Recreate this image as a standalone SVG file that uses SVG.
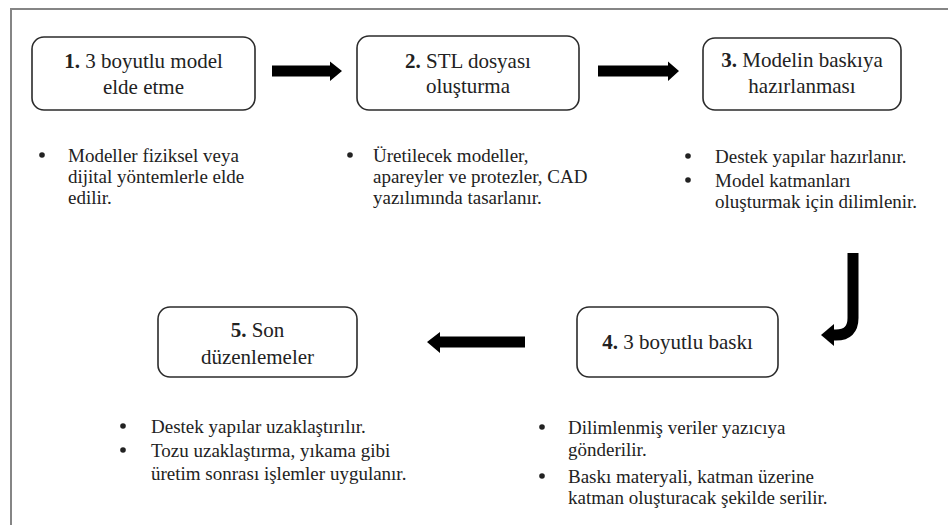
<svg xmlns="http://www.w3.org/2000/svg" width="948" height="525" viewBox="0 0 948 525">
<style>
.box{fill:#fff;stroke:#2b2b2b;stroke-width:1.6}
text{font-family:'Liberation Serif','Tinos','Times New Roman','Times','Noto Serif','DejaVu Serif','FreeSerif',serif;fill:#222}
.t{font-size:21px;text-anchor:middle}
.b{font-size:19px}
.n{font-weight:bold}
.arr{fill:#000;stroke:none}
.dot{fill:#222}
</style>
<rect width="948" height="525" fill="#fff"/>
<g id="frame">
<path d="M11,525 V9 H948" fill="none" stroke="#858585" stroke-width="2"/>
</g>
<g id="connectors">
<polygon class="arr" points="272,65.5 330,65.5 330,61.5 342,71 330,81 330,76.5 272,76.5"/>
<polygon class="arr" points="598,65.5 668,65.5 668,61.5 679,71 668,81 668,76.5 598,76.5"/>
<polygon class="arr" points="525,336.5 440,336.5 440,332 427,342 440,353 440,347.5 525,347.5"/>
<path d="M853,253 V318 Q853,335 836,335 H832" fill="none" stroke="#000" stroke-width="11"/>
<polygon class="arr" points="834,324 834,346 821,335"/>
</g>
<g id="node1">
<rect class="box" x="32" y="37" width="223" height="73" rx="12"/>
<text class="t" x="143.5" y="68"><tspan class="n">1.</tspan> 3 boyutlu model</text>
<text class="t" x="143.5" y="94">elde etme</text>
</g>
<g id="node2">
<rect class="box" x="357" y="36" width="222" height="74" rx="12"/>
<text class="t" x="468" y="68"><tspan class="n">2.</tspan> STL dosyası</text>
<text class="t" x="468" y="93">oluşturma</text>
</g>
<g id="node3">
<rect class="box" x="703" y="38" width="198" height="72" rx="12"/>
<text class="t" x="802" y="67"><tspan class="n">3.</tspan> Modelin baskıya</text>
<text class="t" x="802" y="93">hazırlanması</text>
</g>
<g id="node4">
<rect class="box" x="577" y="307" width="201" height="70" rx="12"/>
<text class="t" x="677.5" y="349"><tspan class="n">4.</tspan> 3 boyutlu baskı</text>
</g>
<g id="node5">
<rect class="box" x="158" y="307" width="199" height="70" rx="12"/>
<text class="t" x="257.5" y="337"><tspan class="n">5.</tspan> Son</text>
<text class="t" x="257.5" y="364">düzenlemeler</text>
</g>
<g id="notes1">
<circle class="dot" cx="42" cy="155" r="2.8"/>
<text class="b" x="68" y="162">Modeller fiziksel veya</text>
<text class="b" x="68" y="183">dijital yöntemlerle elde</text>
<text class="b" x="68" y="204">edilir.</text>
</g>
<g id="notes2">
<circle class="dot" cx="350" cy="155" r="2.8"/>
<text class="b" x="373" y="162">Üretilecek modeller,</text>
<text class="b" x="373" y="183">apareyler ve protezler, CAD</text>
<text class="b" x="373" y="204">yazılımında tasarlanır.</text>
</g>
<g id="notes3">
<circle class="dot" cx="688" cy="156" r="2.8"/>
<text class="b" x="715" y="163">Destek yapılar hazırlanır.</text>
<circle class="dot" cx="688" cy="180" r="2.8"/>
<text class="b" x="715" y="187">Model katmanları</text>
<text class="b" x="715" y="208">oluşturmak için dilimlenir.</text>
</g>
<g id="notes4">
<circle class="dot" cx="542" cy="427" r="2.8"/>
<text class="b" x="568" y="434">Dilimlenmiş veriler yazıcıya</text>
<text class="b" x="568" y="456">gönderilir.</text>
<circle class="dot" cx="542" cy="476" r="2.8"/>
<text class="b" x="568" y="483">Baskı materyali, katman üzerine</text>
<text class="b" x="568" y="504">katman oluşturacak şekilde serilir.</text>
</g>
<g id="notes5">
<circle class="dot" cx="123" cy="426" r="2.8"/>
<text class="b" x="151" y="433">Destek yapılar uzaklaştırılır.</text>
<circle class="dot" cx="123" cy="450" r="2.8"/>
<text class="b" x="151" y="457">Tozu uzaklaştırma, yıkama gibi</text>
<text class="b" x="151" y="480">üretim sonrası işlemler uygulanır.</text>
</g>
</svg>
